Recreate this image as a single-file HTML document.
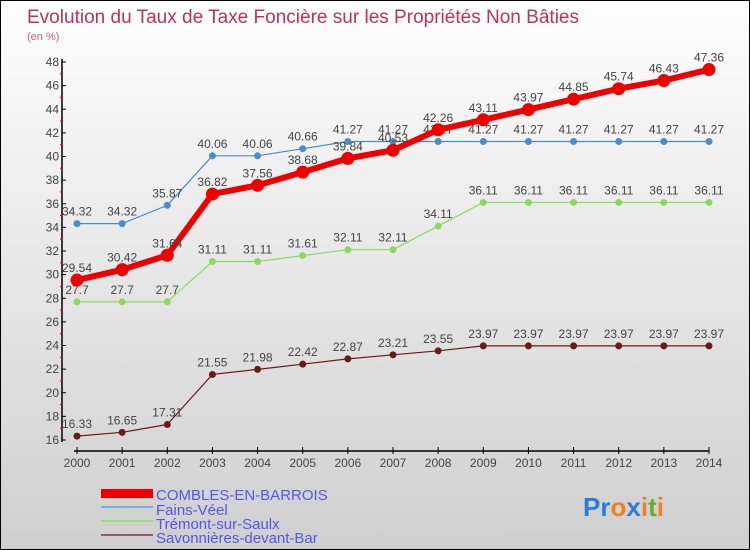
<!DOCTYPE html>
<html><head><meta charset="utf-8"><style>
body{margin:0}
#c{width:750px;height:550px;position:relative;box-sizing:border-box;border:1px solid #000;background:linear-gradient(#fefefe,#cfcfcf);font-family:"Liberation Sans",sans-serif;overflow:hidden}
svg text{font-family:"Liberation Sans",sans-serif}
</style></head><body>
<div id="c">
<svg id="s" width="750" height="550" xmlns="http://www.w3.org/2000/svg">
<text x="26" y="22" font-size="19" fill="#c0305a" textLength="552">Evolution du Taux de Taxe Foncière sur les Propriétés Non Bâties</text>
<text x="26" y="39" font-size="11" fill="#c86080">(en %)</text>
<g id="axes"></g><g id="series"></g>
<g>
<rect x="100" y="488" width="52" height="9" fill="#e00"/>
<text x="155" y="499" font-size="15" fill="#5555ee">COMBLES-EN-BARROIS</text>
<rect x="100" y="505" width="52" height="2" fill="#7ab0d8"/>
<text x="155" y="514" font-size="15" fill="#5555ee">Fains-Véel</text>
<rect x="100" y="519" width="52" height="2" fill="#a0d880"/>
<text x="155" y="528" font-size="15" fill="#5555ee">Trémont-sur-Saulx</text>
<rect x="100" y="533" width="52" height="2" fill="#906060"/>
<text x="155" y="542" font-size="15" fill="#5555ee">Savonnières-devant-Bar</text>
</g>
<g font-size="26" font-weight="bold">
<text x="582" y="515"><tspan fill="#2a7fd4">P</tspan><tspan fill="#2a7fd4">r</tspan><tspan fill="#f08020">o</tspan><tspan fill="#2a7fd4">x</tspan><tspan fill="#f08020">i</tspan><tspan fill="#60b030">t</tspan><tspan fill="#f08020">i</tspan></text>
</g>
</svg>
</div>
<script>
const years=[2000,2001,2002,2003,2004,2005,2006,2007,2008,2009,2010,2011,2012,2013,2014];
const combles=[29.54,30.42,31.64,36.82,37.56,38.68,39.84,40.53,42.26,43.11,43.97,44.85,45.74,46.43,47.36];
const fains=[34.32,34.32,35.87,40.06,40.06,40.66,41.27,41.27,41.27,41.27,41.27,41.27,41.27,41.27,41.27];
const tremont=[27.7,27.7,27.7,31.11,31.11,31.61,32.11,32.11,34.11,36.11,36.11,36.11,36.11,36.11,36.11];
const savon=[16.33,16.65,17.31,21.55,21.98,22.42,22.87,23.21,23.55,23.97,23.97,23.97,23.97,23.97,23.97];
const yTicks=[16,18,20,22,24,26,28,30,32,34,36,38,40,42,44,46,48];
const NS='http://www.w3.org/2000/svg';
const X=i=>76+i*(708-76)/(years.length-1);
const Y=v=>439-(v-16)*(439-61)/32;
function mk(tag,at,parent){const e=document.createElementNS(NS,tag);for(const k in at)e.setAttribute(k,at[k]);parent.appendChild(e);return e;}
const ax=document.getElementById('axes'),sr=document.getElementById('series');
const ya=mk('line',{x1:61,y1:58,x2:61,y2:441,stroke:'#000','stroke-width':1.5},ax);


yTicks.forEach(t=>{
  mk('line',{x1:61,y1:Y(t),x2:65,y2:Y(t),stroke:'#000'},ax);
  if(t<48)mk('line',{x1:59,y1:Y(t+1),x2:62,y2:Y(t+1),stroke:'#e00'},ax);
  const tx=mk('text',{x:58,y:Y(t)+4,'font-size':12,fill:'#444','text-anchor':'end'},ax);tx.textContent=t;
  
  
});
const xa=mk('line',{x1:73,y1:450,x2:708,y2:450,stroke:'#000','stroke-width':1.5},ax);


years.forEach((y,i)=>{
  mk('line',{x1:X(i),y1:446,x2:X(i),y2:453,stroke:'#000'},ax);
  const tx=mk('text',{x:X(i),y:466,'font-size':12,fill:'#444','text-anchor':'middle'},ax);tx.textContent=y;
  
  
});
function series(vals,color,w,r,name){
  const g=mk('g',{},sr);
  
  
  mk('polyline',{points:vals.map((v,i)=>X(i)+','+Y(v)).join(' '),fill:'none',stroke:color,'stroke-width':w,'stroke-linejoin':'round'},g);
  vals.forEach((v,i)=>{
    const c=mk('circle',{cx:X(i),cy:Y(v),r:r,fill:color},g);
    
    
    const t=mk('text',{x:X(i),y:Y(v)-8,'font-size':12,fill:'#444','text-anchor':'middle'},g);t.textContent=v;
  });
}
series(savon,'#6a1a1a',1.2,3.5,'savonnieres-series');
series(tremont,'#8fd860',1.2,3.5,'tremont-series');
series(fains,'#4a8cc8',1.2,3.5,'fains-series');
series(combles,'#ee0000',6,6.5,'combles-series');
</script>
</body></html>
